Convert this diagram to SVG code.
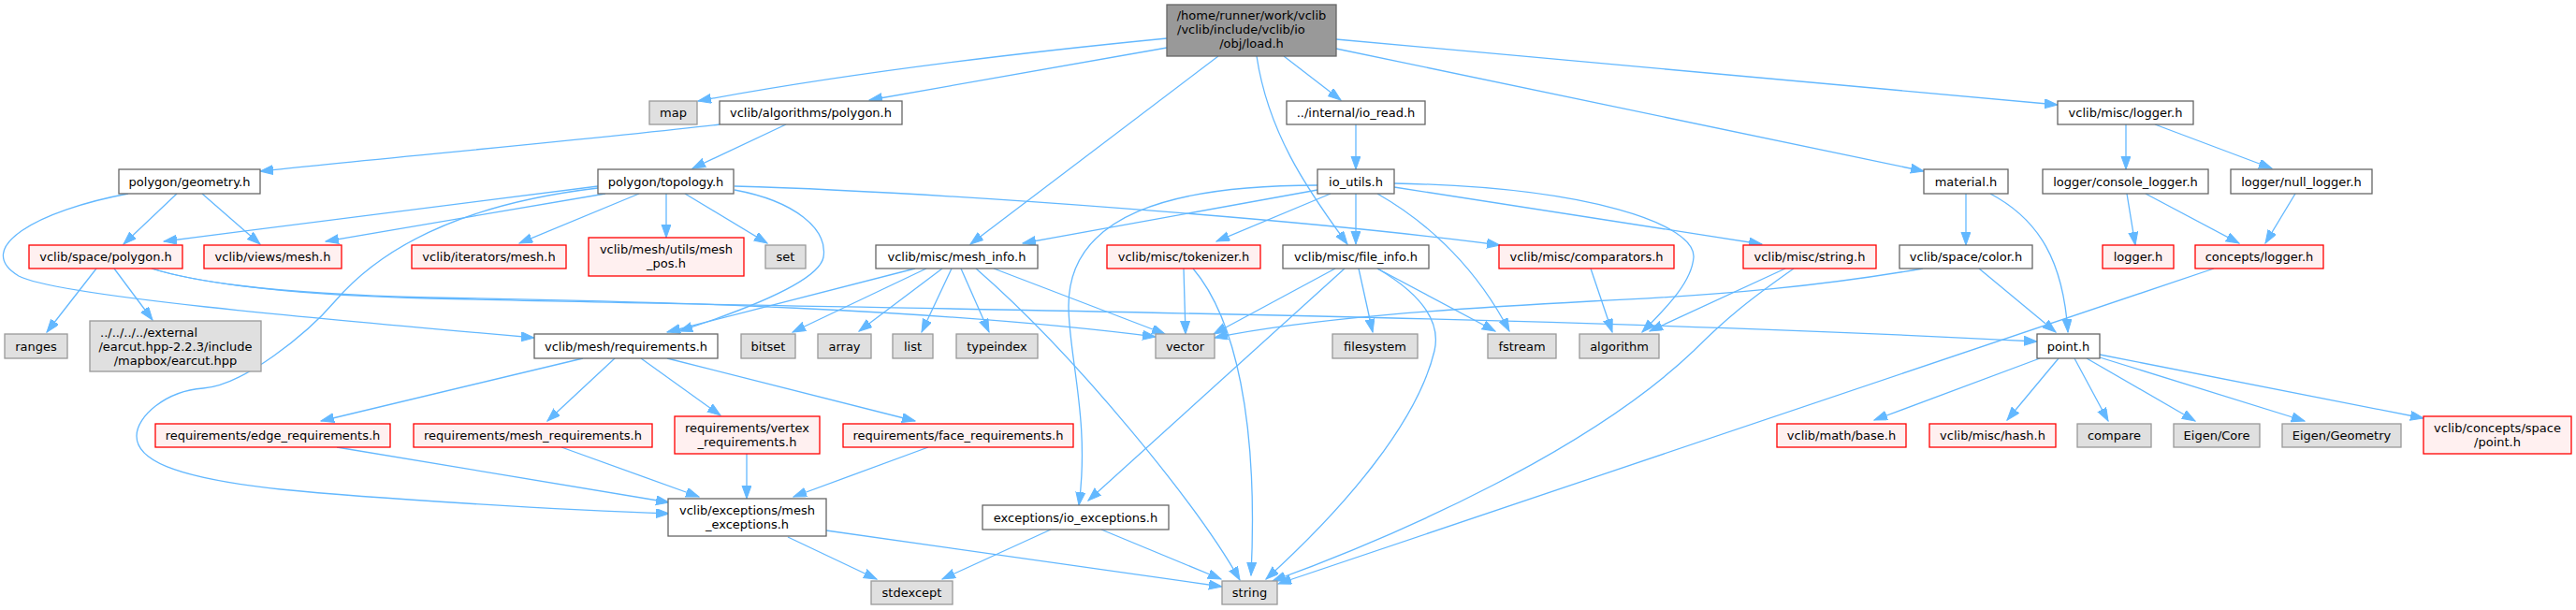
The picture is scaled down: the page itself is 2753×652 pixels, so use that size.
<svg xmlns="http://www.w3.org/2000/svg" width="2753" height="652" viewBox="0 0 2753 652">
<style>
text{font-family:"DejaVu Sans","Liberation Sans",sans-serif;font-size:13px;fill:#000;text-anchor:middle}
.n rect{fill:#fff;stroke:#666;stroke-width:1.3}
.r rect{fill:#fff0f0;stroke:#f00;stroke-width:1.3}
.g rect{fill:#e0e0e0;stroke:#999;stroke-width:1.3}
.root rect{fill:#999;stroke:#666;stroke-width:1.3}
#edges path{fill:none;stroke:#63b8ff;stroke-width:1.3;marker-end:url(#a)}
</style>
<defs>
<marker id="a" markerUnits="userSpaceOnUse" markerWidth="15" markerHeight="11" refX="14" refY="5" orient="auto" viewBox="0 0 15 11">
<path d="M0,0 L14,5 L0,10 z" fill="#63b8ff" stroke="#63b8ff" stroke-width="1"/>
</marker>
</defs>
<rect width="2753" height="652" fill="#fff"/>
<g id="edges">
<path d="M1247,41 Q950,70 746,108"/>
<path d="M1247,51 L929,107"/>
<path d="M1302,60 L1037,261"/>
<path d="M1343,60 C1355,140 1395,200 1440,261"/>
<path d="M1372,60 L1433,107"/>
<path d="M1428,42 L2199,112"/>
<path d="M1428,52 L2056,183"/>
<path d="M769,133 C650,147 400,170 278,183"/>
<path d="M840,133 L740,180"/>
<path d="M189,207 L132,261"/>
<path d="M216,207 L278,261"/>
<path d="M137,207 C40,225 -30,265 20,295 C60,316 330,340 571,361"/>
<path d="M639,199 L175,258"/>
<path d="M647,207 L348,258"/>
<path d="M639,201 C520,215 420,250 358,322 C328,357 260,412 217,415 C177,418 146,445 146,466 C146,490 180,510 300,523 C400,533 600,545 715,549"/>
<path d="M683,207 L555,260"/>
<path d="M712,207 L712,254"/>
<path d="M732,207 L820,260"/>
<path d="M785,203 C850,215 885,245 880,275 C875,300 800,330 726,354"/>
<path d="M785,199 C1000,205 1400,235 1603,262"/>
<path d="M103,287 L50,355"/>
<path d="M122,287 L163,342"/>
<path d="M162,287 C220,305 330,315 460,318 C700,322 1000,330 1235,360"/>
<path d="M162,287 C220,305 330,316 460,319 C900,330 1600,335 2177,365"/>
<path d="M1449,133 L1449,181"/>
<path d="M1449,207 L1449,261"/>
<path d="M1408,203 L1093,260"/>
<path d="M1422,207 L1300,258"/>
<path d="M1408,198 C1250,198 1142,230 1142,327 C1142,380 1165,450 1153,540"/>
<path d="M1472,207 C1530,240 1580,290 1613,354"/>
<path d="M1490,196 C1700,200 1812,240 1810,275 C1808,300 1785,325 1755,355"/>
<path d="M1490,200 L1883,261"/>
<path d="M978,287 L713,355"/>
<path d="M990,287 L847,355"/>
<path d="M1007,287 L918,354"/>
<path d="M1017,287 L985,355"/>
<path d="M1027,287 L1057,355"/>
<path d="M1043,287 C1150,380 1280,540 1325,620"/>
<path d="M1062,287 L1245,357"/>
<path d="M1265,287 L1267,357"/>
<path d="M1275,287 C1320,340 1345,450 1337,615"/>
<path d="M1427,287 L1297,357"/>
<path d="M1437,287 L1163,535"/>
<path d="M1452,287 L1467,355"/>
<path d="M1472,287 L1598,354"/>
<path d="M1472,287 C1520,315 1540,345 1533,375 C1515,450 1440,540 1353,619"/>
<path d="M1700,287 L1723,355"/>
<path d="M1908,287 L1763,354"/>
<path d="M1917,287 C1870,320 1845,340 1810,375 C1700,480 1500,570 1360,621"/>
<path d="M2055,287 C1950,305 1850,315 1700,322 C1550,330 1400,340 1298,361"/>
<path d="M2115,287 L2197,355"/>
<path d="M2101,207 L2101,262"/>
<path d="M2127,207 C2180,235 2205,280 2210,355"/>
<path d="M2272,133 L2272,181"/>
<path d="M2303,133 L2428,180"/>
<path d="M2273,207 L2282,262"/>
<path d="M2293,207 L2393,260"/>
<path d="M2453,207 L2421,260"/>
<path d="M2366,287 L1366,624"/>
<path d="M2180,383 L2003,449"/>
<path d="M2200,383 L2145,449"/>
<path d="M2217,383 L2253,450"/>
<path d="M2230,383 L2346,450"/>
<path d="M2244,382 L2463,450"/>
<path d="M2244,379 L2590,447"/>
<path d="M623,383 L343,450"/>
<path d="M657,383 L585,450"/>
<path d="M685,383 L770,444"/>
<path d="M713,383 L978,450"/>
<path d="M360,478 L715,537"/>
<path d="M600,478 L747,531"/>
<path d="M798,485 L798,533"/>
<path d="M992,478 L848,531"/>
<path d="M842,574 L937,619"/>
<path d="M883,567 L1306,627"/>
<path d="M1123,566 L1007,619"/>
<path d="M1177,566 L1305,619"/>
</g>
<g id="root" class="root"><rect x="1247" y="5" width="181" height="55"/><text x="1337.5" y="20.5">/home/runner/work/vclib</text><text x="1258" y="35.5" style="text-anchor:start">/vclib/include/vclib/io</text><text x="1337.5" y="50.5">/obj/load.h</text></g>
<g id="map" class="g"><rect x="694" y="108" width="51" height="25"/><text x="719.5" y="125">map</text></g>
<g id="algo_polygon" class="n"><rect x="769" y="108" width="195" height="25"/><text x="866.5" y="125">vclib/algorithms/polygon.h</text></g>
<g id="io_read" class="n"><rect x="1375" y="108" width="148" height="25"/><text x="1449" y="125">../internal/io_read.h</text></g>
<g id="misc_logger" class="n"><rect x="2199" y="108" width="145" height="25"/><text x="2271.5" y="125">vclib/misc/logger.h</text></g>
<g id="geometry" class="n"><rect x="127" y="181" width="151" height="26"/><text x="202.5" y="198.5">polygon/geometry.h</text></g>
<g id="topology" class="n"><rect x="639" y="181" width="145" height="26"/><text x="711.5" y="198.5">polygon/topology.h</text></g>
<g id="io_utils" class="n"><rect x="1408" y="181" width="82" height="26"/><text x="1449" y="198.5">io_utils.h</text></g>
<g id="material" class="n"><rect x="2056" y="181" width="90" height="26"/><text x="2101" y="198.5">material.h</text></g>
<g id="console_logger" class="n"><rect x="2183" y="181" width="177" height="26"/><text x="2271.5" y="198.5">logger/console_logger.h</text></g>
<g id="null_logger" class="n"><rect x="2384" y="181" width="151" height="26"/><text x="2459.5" y="198.5">logger/null_logger.h</text></g>
<g id="space_polygon" class="r"><rect x="31" y="262" width="164" height="25"/><text x="113" y="279">vclib/space/polygon.h</text></g>
<g id="views_mesh" class="r"><rect x="218" y="262" width="147" height="25"/><text x="291.5" y="279">vclib/views/mesh.h</text></g>
<g id="iterators_mesh" class="r"><rect x="440" y="262" width="165" height="25"/><text x="522.5" y="279">vclib/iterators/mesh.h</text></g>
<g id="mesh_pos" class="r"><rect x="629" y="254" width="166" height="41"/><text x="712" y="271">vclib/mesh/utils/mesh</text><text x="712" y="286">_pos.h</text></g>
<g id="set" class="g"><rect x="818" y="262" width="43" height="25"/><text x="839.5" y="279">set</text></g>
<g id="mesh_info" class="n"><rect x="936" y="262" width="173" height="25"/><text x="1022.5" y="279">vclib/misc/mesh_info.h</text></g>
<g id="tokenizer" class="r"><rect x="1183" y="262" width="164" height="25"/><text x="1265" y="279">vclib/misc/tokenizer.h</text></g>
<g id="file_info" class="n"><rect x="1371" y="262" width="156" height="25"/><text x="1449" y="279">vclib/misc/file_info.h</text></g>
<g id="comparators" class="r"><rect x="1602" y="262" width="187" height="25"/><text x="1695.5" y="279">vclib/misc/comparators.h</text></g>
<g id="string_h" class="r"><rect x="1863" y="262" width="142" height="25"/><text x="1934" y="279">vclib/misc/string.h</text></g>
<g id="color" class="n"><rect x="2030" y="262" width="142" height="25"/><text x="2101" y="279">vclib/space/color.h</text></g>
<g id="logger_h" class="r"><rect x="2247" y="262" width="76" height="25"/><text x="2285" y="279">logger.h</text></g>
<g id="concepts_logger" class="r"><rect x="2346" y="262" width="137" height="25"/><text x="2414.5" y="279">concepts/logger.h</text></g>
<g id="ranges" class="g"><rect x="5" y="357" width="67" height="26"/><text x="38.5" y="374.5">ranges</text></g>
<g id="earcut" class="g"><rect x="96" y="343" width="183" height="54"/><text x="107" y="359.5" style="text-anchor:start">../../../../external</text><text x="187.5" y="374.5">/earcut.hpp-2.2.3/include</text><text x="187.5" y="389.5">/mapbox/earcut.hpp</text></g>
<g id="requirements" class="n"><rect x="571" y="357" width="196" height="26"/><text x="669" y="374.5">vclib/mesh/requirements.h</text></g>
<g id="bitset" class="g"><rect x="792" y="357" width="58" height="26"/><text x="821" y="374.5">bitset</text></g>
<g id="array" class="g"><rect x="874" y="357" width="57" height="26"/><text x="902.5" y="374.5">array</text></g>
<g id="list" class="g"><rect x="954" y="357" width="43" height="26"/><text x="975.5" y="374.5">list</text></g>
<g id="typeindex" class="g"><rect x="1022" y="357" width="87" height="26"/><text x="1065.5" y="374.5">typeindex</text></g>
<g id="vector" class="g"><rect x="1235" y="357" width="63" height="26"/><text x="1266.5" y="374.5">vector</text></g>
<g id="filesystem" class="g"><rect x="1424" y="357" width="91" height="26"/><text x="1469.5" y="374.5">filesystem</text></g>
<g id="fstream" class="g"><rect x="1590" y="357" width="73" height="26"/><text x="1626.5" y="374.5">fstream</text></g>
<g id="algorithm" class="g"><rect x="1688" y="357" width="85" height="26"/><text x="1730.5" y="374.5">algorithm</text></g>
<g id="point" class="n"><rect x="2177" y="357" width="67" height="26"/><text x="2210.5" y="374.5">point.h</text></g>
<g id="edge_req" class="r"><rect x="166" y="453" width="251" height="25"/><text x="291.5" y="470">requirements/edge_requirements.h</text></g>
<g id="mesh_req" class="r"><rect x="442" y="453" width="255" height="25"/><text x="569.5" y="470">requirements/mesh_requirements.h</text></g>
<g id="vertex_req" class="r"><rect x="721" y="445" width="155" height="40"/><text x="798.5" y="461.5">requirements/vertex</text><text x="798.5" y="476.5">_requirements.h</text></g>
<g id="face_req" class="r"><rect x="901" y="453" width="246" height="25"/><text x="1024" y="470">requirements/face_requirements.h</text></g>
<g id="math_base" class="r"><rect x="1899" y="453" width="138" height="25"/><text x="1968" y="470">vclib/math/base.h</text></g>
<g id="hash" class="r"><rect x="2062" y="453" width="135" height="25"/><text x="2129.5" y="470">vclib/misc/hash.h</text></g>
<g id="compare" class="g"><rect x="2220" y="453" width="79" height="25"/><text x="2259.5" y="470">compare</text></g>
<g id="eigen_core" class="g"><rect x="2323" y="453" width="92" height="25"/><text x="2369" y="470">Eigen/Core</text></g>
<g id="eigen_geometry" class="g"><rect x="2439" y="453" width="127" height="25"/><text x="2502.5" y="470">Eigen/Geometry</text></g>
<g id="concepts_point" class="r"><rect x="2590" y="445" width="158" height="40"/><text x="2669" y="461.5">vclib/concepts/space</text><text x="2669" y="476.5">/point.h</text></g>
<g id="mesh_exceptions" class="n"><rect x="714" y="533" width="169" height="40"/><text x="798.5" y="549.5">vclib/exceptions/mesh</text><text x="798.5" y="564.5">_exceptions.h</text></g>
<g id="io_exceptions" class="n"><rect x="1050" y="540" width="199" height="26"/><text x="1149.5" y="557.5">exceptions/io_exceptions.h</text></g>
<g id="stdexcept" class="g"><rect x="931" y="621" width="87" height="25"/><text x="974.5" y="638">stdexcept</text></g>
<g id="string" class="g"><rect x="1306" y="621" width="59" height="25"/><text x="1335.5" y="638">string</text></g>
</svg>
